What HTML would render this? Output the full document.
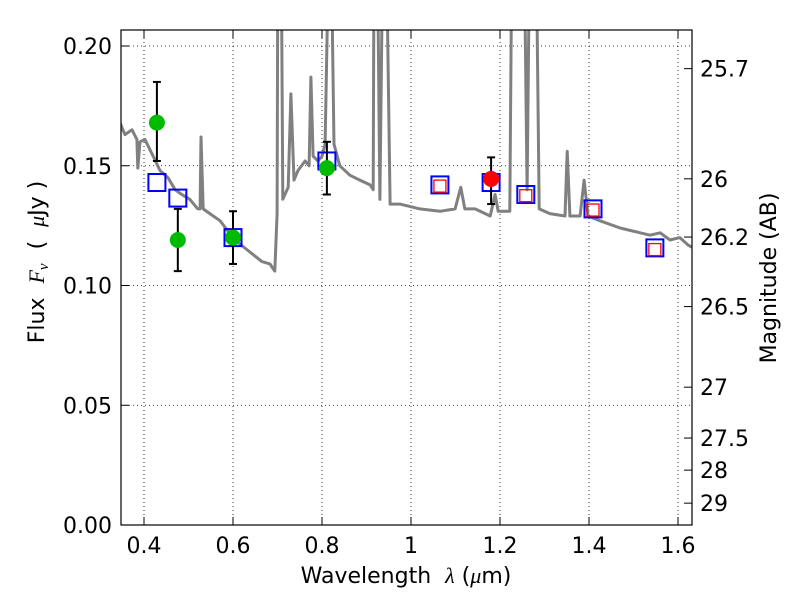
<!DOCTYPE html>
<html><head><meta charset="utf-8"><style>
html,body{margin:0;padding:0;background:#fff;}
svg{display:block;font-family:"DejaVu Sans","Liberation Sans",sans-serif;}
</style></head><body>
<svg id="chart" width="800" height="600" viewBox="0 0 800 600" xmlns="http://www.w3.org/2000/svg">
<defs><clipPath id="clip"><rect x="121" y="30" width="571" height="495"/></clipPath></defs>
<rect x="0" y="0" width="800" height="600" fill="#fff"/>
<g id="grid"></g>
<g id="plot" clip-path="url(#clip)"></g>
<rect x="121" y="30" width="571" height="495" fill="none" stroke="#000" stroke-width="1.2"/>
<g id="axes"></g>
<text x="406" y="583" font-size="22" text-anchor="middle">Wavelength&#160; <tspan font-family="Liberation Serif" font-style="italic">λ</tspan> (<tspan font-family="Liberation Serif" font-style="italic">μ</tspan>m)</text>
<text transform="translate(44,262) rotate(-90)" font-size="22" text-anchor="middle">Flux&#160; <tspan font-family="Liberation Serif" font-style="italic">F<tspan font-size="15" dy="4">ν</tspan></tspan><tspan dy="-4">&#160;&#160;(&#160;&#160;</tspan><tspan font-family="Liberation Serif" font-style="italic">μ</tspan>Jy )</text>
<text transform="translate(776,278) rotate(-90)" font-size="22" text-anchor="middle">Magnitude (AB)</text>
</svg>
<script>
const specWave=[0.346,0.357,0.373,0.384,0.386,0.391,0.402,0.418,0.436,0.454,0.470,0.485,0.503,0.521,0.526,0.528,0.533,0.548,0.571,0.604,0.638,0.665,0.683,0.694,0.699,0.701,0.708,0.712,0.724,0.730,0.737,0.746,0.762,0.771,0.775,0.780,0.791,0.800,0.807,0.816,0.820,0.827,0.840,0.863,0.885,0.908,0.915,0.917,0.924,0.930,0.937,0.944,0.953,0.975,1.020,1.065,1.099,1.112,1.121,1.144,1.178,1.189,1.196,1.222,1.227,1.234,1.254,1.261,1.267,1.281,1.288,1.312,1.346,1.351,1.357,1.380,1.389,1.398,1.425,1.470,1.515,1.537,1.560,1.582,1.604,1.622,1.631];
const specFlux=[0.168,0.163,0.165,0.161,0.149,0.160,0.161,0.155,0.148,0.145,0.140,0.138,0.136,0.132,0.132,0.162,0.132,0.130,0.127,0.119,0.114,0.110,0.109,0.106,0.130,0.25,0.25,0.136,0.141,0.180,0.144,0.148,0.152,0.150,0.187,0.154,0.152,0.154,0.159,0.25,0.25,0.159,0.150,0.146,0.144,0.142,0.140,0.25,0.25,0.136,0.25,0.25,0.134,0.134,0.132,0.131,0.132,0.141,0.132,0.132,0.129,0.138,0.131,0.131,0.25,0.25,0.25,0.140,0.25,0.25,0.132,0.130,0.129,0.156,0.129,0.129,0.144,0.129,0.127,0.124,0.122,0.121,0.122,0.119,0.120,0.117,0.116];
const photWave=[0.429,0.476,0.600,0.811];
const photFlux=[0.168,0.119,0.120,0.149];
const photLo=[0.152,0.106,0.109,0.138];
const photHi=[0.185,0.132,0.131,0.160];
const redWave=[1.180];const redFlux=[0.1445];const redLo=[0.134];const redHi=[0.1535];
const modelWave=[0.429,0.476,0.600,0.811,1.065,1.180,1.258,1.409,1.548];
const modelFlux=[0.143,0.1365,0.120,0.152,0.142,0.143,0.138,0.132,0.1157];
const predWave=[1.065,1.258,1.409,1.548];
const predFlux=[0.1415,0.1375,0.1315,0.115];
const xTicks=[0.4,0.6,0.8,1.0,1.2,1.4,1.6];
const xTickLabels=["0.4","0.6","0.8","1","1.2","1.4","1.6"];
const yTicks=[0,0.05,0.10,0.15,0.20];
const yTickLabels=["0.00","0.05","0.10","0.15","0.20"];
const magTicks=[25.7,26,26.2,26.5,27,27.5,28,29];
const magTickLabels=["25.7","26","26.2","26.5","27","27.5","28","29"];

const NS="http://www.w3.org/2000/svg";
const X=v=>144+(v-0.4)*445;
const Y=v=>525-v*2395;
function mk(tag,attrs,parent){const e=document.createElementNS(NS,tag);for(const k in attrs)e.setAttribute(k,attrs[k]);parent.appendChild(e);return e;}
const grid=document.getElementById('grid'),plot=document.getElementById('plot'),axes=document.getElementById('axes');
xTicks.forEach((t,i)=>{
  const g=mk('line',{x1:X(t),x2:X(t),y1:30,y2:525,stroke:'#000','stroke-width':0.8,'stroke-dasharray':'1,3'},grid);
  
  mk('line',{x1:X(t),x2:X(t),y1:525,y2:517,stroke:'#000'},axes);
  mk('line',{x1:X(t),x2:X(t),y1:30,y2:38,stroke:'#000'},axes);
  const tx=mk('text',{x:X(t),y:553,'font-size':22,'text-anchor':'middle'},axes);tx.textContent=xTickLabels[i];
  
});
yTicks.forEach((t,i)=>{
  const g=mk('line',{x1:121,x2:692,y1:Y(t),y2:Y(t),stroke:'#000','stroke-width':0.8,'stroke-dasharray':'1,3'},grid);
  
  mk('line',{x1:121,x2:129,y1:Y(t),y2:Y(t),stroke:'#000'},axes);
  const tx=mk('text',{x:112,y:Y(t)+8,'font-size':22,'text-anchor':'end'},axes);tx.textContent=yTickLabels[i];
  
});
magTicks.forEach((m,i)=>{
  const f=Math.pow(10,(23.9-m)/2.5);const y=Y(f);
  mk('line',{x1:684,x2:692,y1:y,y2:y,stroke:'#000'},axes);
  const tx=mk('text',{x:700,y:y+8,'font-size':22},axes);tx.textContent=magTickLabels[i];
  
});
let d='';specWave.forEach((w,i)=>{d+=(i?'L':'M')+X(w).toFixed(1)+','+Y(specFlux[i]).toFixed(1);});
const sp=mk('path',{d:d,fill:'none',stroke:'#808080','stroke-width':3,'stroke-linejoin':'round'},plot);

modelWave.forEach((w,i)=>{
  const r=mk('rect',{x:X(w)-8.5,y:Y(modelFlux[i])-8.5,width:17,height:17,fill:'none',stroke:'#0000ff','stroke-width':2},plot);
  
});
predWave.forEach((w,i)=>{
  const r=mk('rect',{x:X(w)-6,y:Y(predFlux[i])-6,width:12,height:12,fill:'none',stroke:'#ff0000','stroke-width':1.3},plot);
  
});
function errs(ws,lo,hi,nm){ws.forEach((w,i)=>{
  const g=mk('g',{stroke:'#000','stroke-width':2},plot);
  
  mk('line',{x1:X(w),x2:X(w),y1:Y(lo[i]),y2:Y(hi[i])},g);
  mk('line',{x1:X(w)-4,x2:X(w)+4,y1:Y(lo[i]),y2:Y(lo[i])},g);
  mk('line',{x1:X(w)-4,x2:X(w)+4,y1:Y(hi[i]),y2:Y(hi[i])},g);
});}
errs(photWave,photLo,photHi,'observed-error-bar');
errs(redWave,redLo,redHi,'observed-red-error-bar');
photWave.forEach((w,i)=>{
  const c=mk('circle',{cx:X(w),cy:Y(photFlux[i]),r:8,fill:'#00bb00'},plot);
  
});
redWave.forEach((w,i)=>{
  const c=mk('circle',{cx:X(w),cy:Y(redFlux[i]),r:8,fill:'#ff0000'},plot);
  
});
</script>
</body></html>
